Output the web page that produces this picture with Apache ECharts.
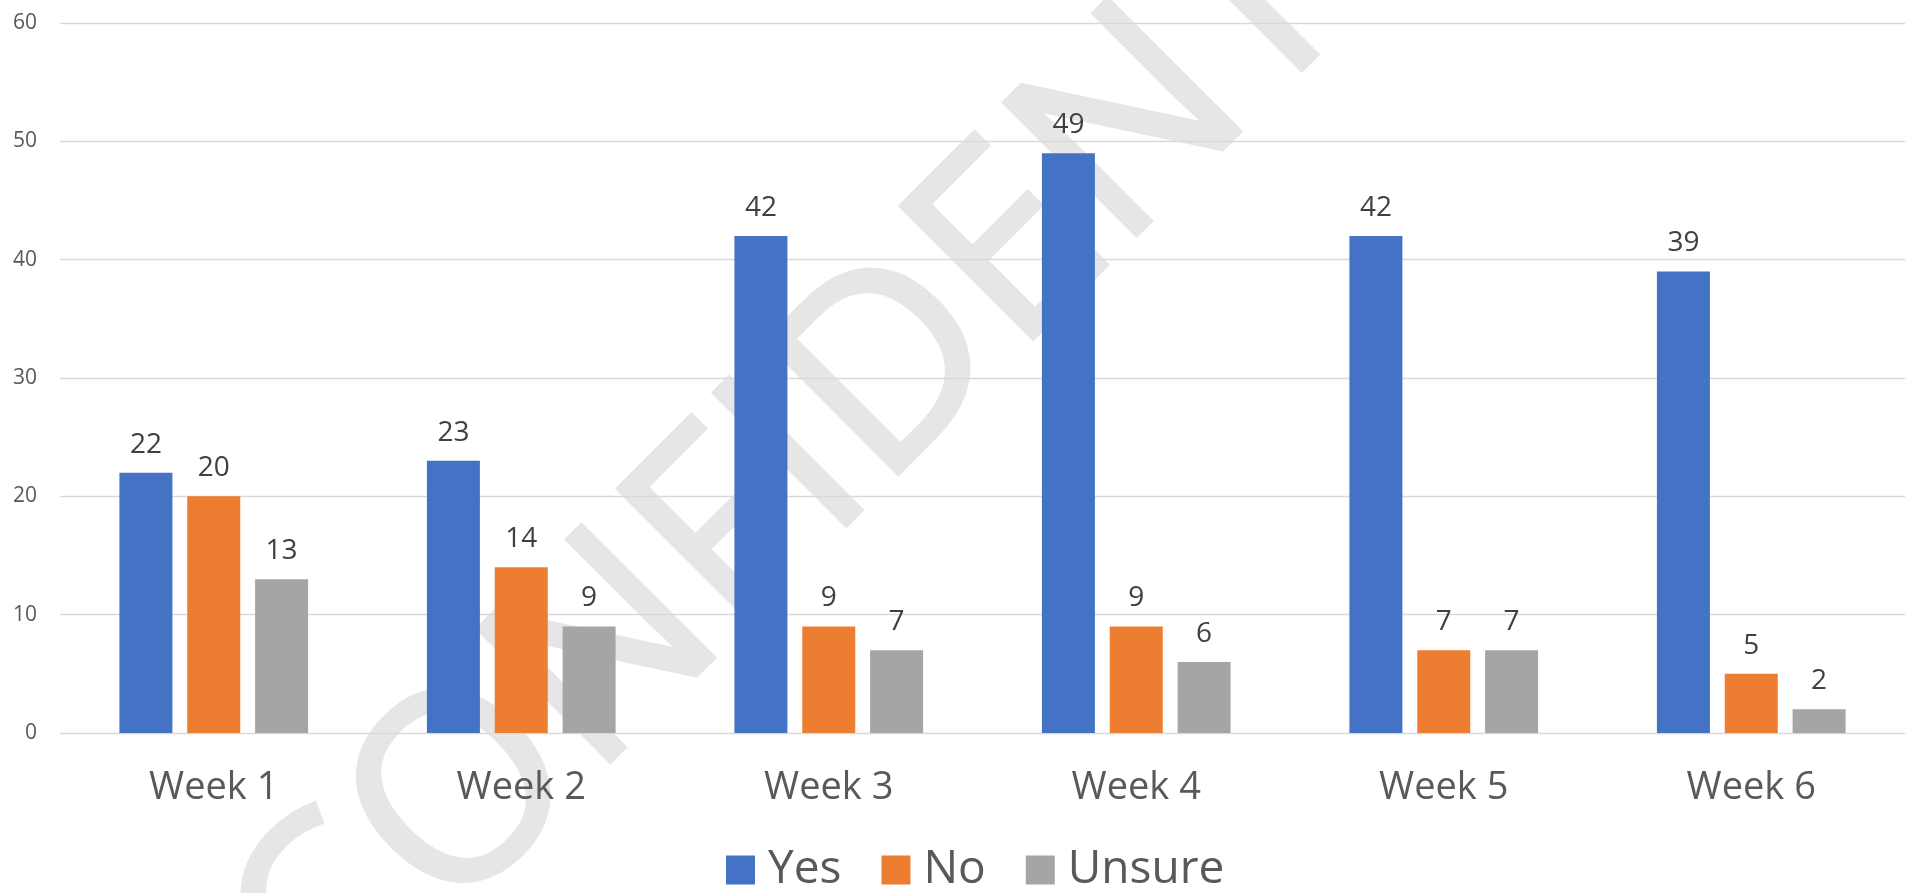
<!DOCTYPE html>
<html>
<head>
<meta charset="utf-8">
<script src="https://cdn.jsdelivr.net/npm/echarts@6/dist/echarts.min.js"></script>
<style>
html,body{margin:0;padding:0;background:#fff;}
#c{width:1908px;height:893px;}
</style>
</head>
<body>
<div id="c"></div>
<script>
const categories = ['Week 1','Week 2','Week 3','Week 4','Week 5','Week 6'];
const yesValues = [22, 23, 42, 49, 42, 39];
const noValues = [20, 14, 9, 9, 7, 5];
const unsureValues = [13, 9, 7, 6, 7, 2];
const seriesNames = ['Yes', 'No', 'Unsure'];
const watermarkText = 'CONFIDENTIAL';

const FONT = '"Open Sans", "Noto Sans", sans-serif';
const chart = echarts.init(document.getElementById('c'), null, {renderer: 'canvas'});

const labelStyle = {
  show: true, position: 'top', distance: 14,
  fontSize: 28, color: '#404040', fontFamily: FONT
};

function mk(name, data, color) {
  return {
    name: name, type: 'bar', data: data,
    barWidth: 53, barGap: '28%',
    itemStyle: {color: color},
    label: labelStyle,
    z: 2
  };
}

chart.setOption({
  backgroundColor: '#ffffff',
  animation: false,
  textStyle: {fontFamily: FONT},
  graphic: [{
    type: 'text',
    x: 926, y: 340,
    rotation: Math.PI / 4,
    silent: true,
    z: -10,
    style: {
      text: watermarkText,
      fontSize: 263,
      fontFamily: FONT,
      fill: '#e6e6e6',
      stroke: '#e6e6e6',
      lineWidth: 4,
      lineJoin: 'round',
      textAlign: 'center',
      textVerticalAlign: 'middle'
    }
  }],
  grid: {left: 60, right: 3, top: 23, bottom: 160, containLabel: false},
  legend: {
    data: seriesNames,
    left: 726, top: 847,
    padding: 0,
    itemWidth: 29, itemHeight: 29,
    itemGap: 40,
    icon: 'rect',
    textStyle: {fontSize: 46, lineHeight: 46, color: '#595959', fontFamily: FONT, padding: [0, 0, 0, 8]}
  },
  xAxis: {
    type: 'category',
    data: categories,
    axisLine: {show: false},
    axisTick: {show: false},
    axisLabel: {fontSize: 38, lineHeight: 38, color: '#595959', margin: 36, fontFamily: FONT}
  },
  yAxis: {
    type: 'value',
    min: 0, max: 60, interval: 10,
    axisLine: {show: false},
    axisTick: {show: false},
    axisLabel: {fontSize: 21, color: '#595959', margin: 23, fontFamily: FONT},
    splitLine: {lineStyle: {color: '#d9d9d9', width: 1.3}}
  },
  series: [
    mk(seriesNames[0], yesValues, '#4472C4'),
    mk(seriesNames[1], noValues, '#ED7D31'),
    mk(seriesNames[2], unsureValues, '#A5A5A5')
  ]
});
</script>
</body>
</html>
